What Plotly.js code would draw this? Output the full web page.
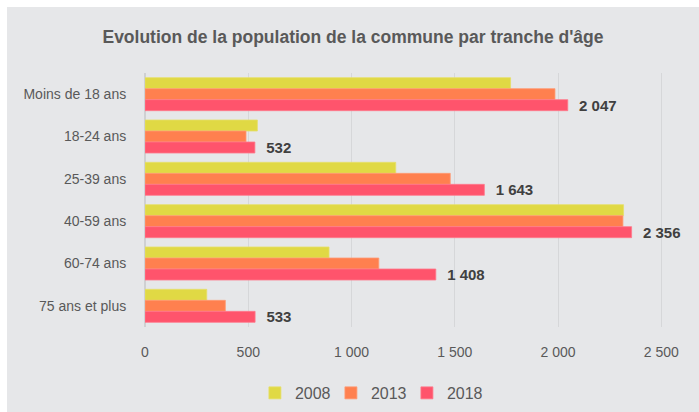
<!DOCTYPE html>
<html>
<head>
<meta charset="utf-8">
<script src="https://cdn.plot.ly/plotly-3.0.1.min.js"></script>
<style>
html,body{margin:0;padding:0;background:#ffffff;}
#chart{position:absolute;left:7px;top:7px;width:692px;height:405px;}
</style>
</head>
<body>
<div id="chart"></div>
<script>
const categories = ["Moins de 18 ans", "18-24 ans", "25-39 ans", "40-59 ans", "60-74 ans", "75 ans et plus"];
const years = ["2008", "2013", "2018"];
const values2008 = [1770, 544, 1214, 2317, 891, 299];
const values2013 = [1985, 489, 1478, 2314, 1132, 389];
const values2018 = [2047, 532, 1643, 2356, 1408, 533];
const colors = ["#e0d944", "#ff804f", "#ff546c"];
const lineColors = ["#e6e06a", "#ff9a74", "#ff7a8c"];
const xTicks = [0, 500, 1000, 1500, 2000, 2500];

const series = [values2008, values2013, values2018];
const traces = series.map((vals, i) => {
  const t = {
    type: "bar",
    orientation: "h",
    name: years[i],
    x: vals,
    y: categories,
    marker: {color: colors[i], line: {color: lineColors[i], width: 0.8}},
    hoverinfo: "x+name"
  };
  if (i === 2) {
    t.texttemplate = "\u00a0\u00a0%{x:,d}";
    t.textposition = "outside";
    t.constraintext = "none";
    t.textfont = {family: "Liberation Sans, Arial, sans-serif", size: 15, color: "#404040", weight: "bold"};
    t.cliponaxis = false;
  } else {
    t.textposition = "none";
  }
  return t;
});

const layout = {
  width: 692,
  height: 405,
  paper_bgcolor: "#e6e7e9",
  plot_bgcolor: "#e6e7e9",
  separators: ", ",
  margin: {l: 138, r: 17, t: 66, b: 85},
  barmode: "group",
  bargap: 0.22,
  bargroupgap: 0,
  title: {
    text: "<b>Evolution de la population de la commune par tranche d'âge</b>",
    font: {family: "Liberation Sans Narrow, Arial Narrow, Liberation Sans, sans-serif", size: 17.5, color: "#595959"},
    x: 0.5, xanchor: "center", xref: "container",
    y: 0.926, yanchor: "middle", yref: "container"
  },
  xaxis: {
    range: [0, 2600],
    tickvals: xTicks,
    tickformat: ",d",
    showgrid: true,
    gridcolor: "#d6d7d9",
    gridwidth: 1,
    zeroline: true,
    zerolinecolor: "#cfd0d2",
    zerolinewidth: 1.5,
    showline: false,
    ticks: "outside",
    ticklen: 12,
    tickcolor: "rgba(0,0,0,0)",
    tickfont: {family: "Liberation Sans, Arial, sans-serif", size: 14, color: "#595959"},
    fixedrange: true
  },
  yaxis: {
    autorange: "reversed",
    type: "category",
    showgrid: false,
    showline: false,
    ticks: "outside",
    ticklen: 15,
    tickcolor: "rgba(0,0,0,0)",
    tickfont: {family: "Liberation Sans, Arial, sans-serif", size: 14, color: "#595959"},
    fixedrange: true
  },
  legend: {
    orientation: "h",
    x: 0.523, xanchor: "center", xref: "container",
    y: 0.047, yanchor: "middle", yref: "container",
    font: {family: "Liberation Sans, Arial, sans-serif", size: 16, color: "#595959"},
    bgcolor: "rgba(0,0,0,0)",
    traceorder: "normal",
    itemwidth: 30,
    entrywidth: 31,
    entrywidthmode: "pixels"
  },
  showlegend: true
};

Plotly.newPlot("chart", traces, layout, {displayModeBar: false, staticPlot: true});
</script>
</body>
</html>
